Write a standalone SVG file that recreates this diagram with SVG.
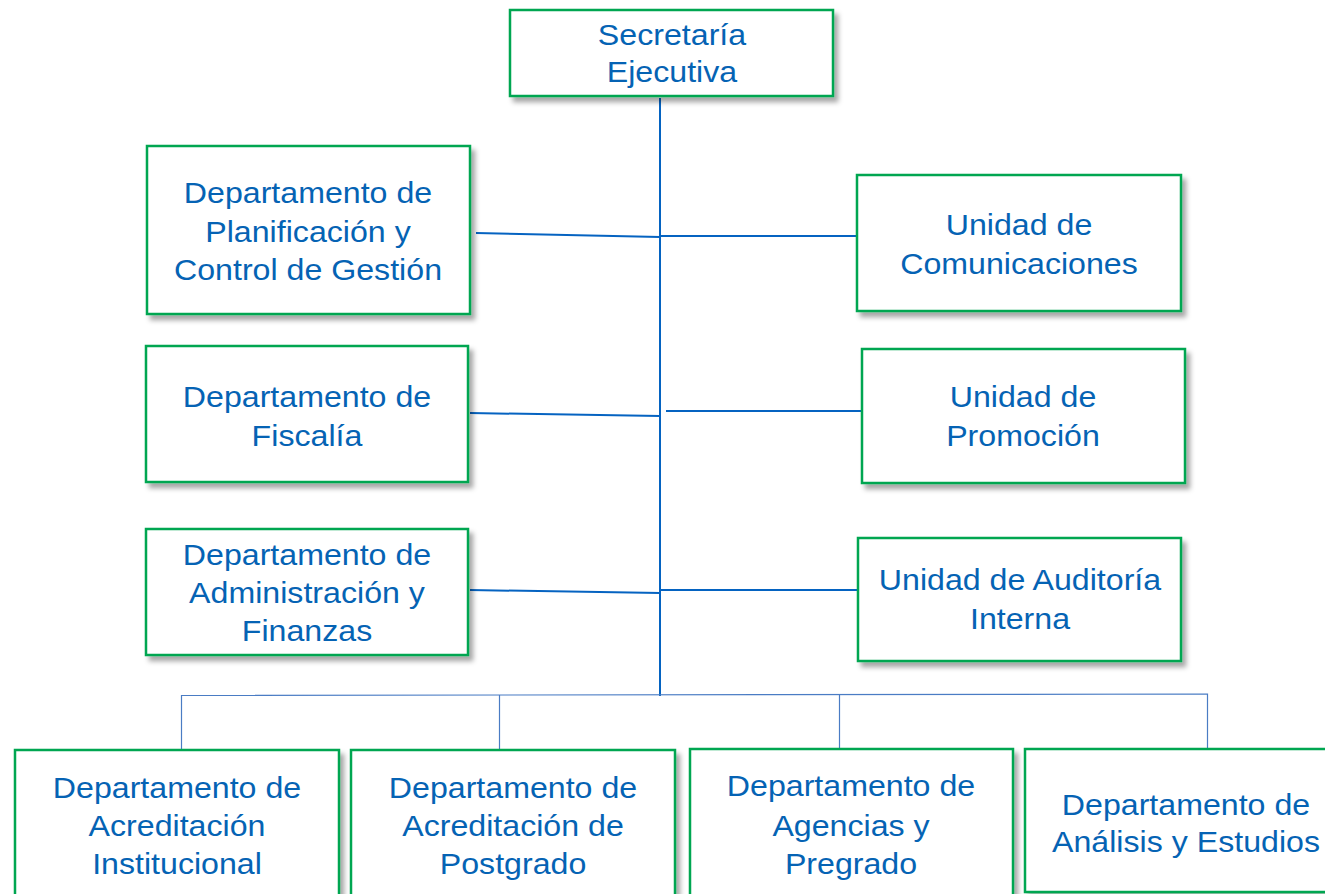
<svg xmlns="http://www.w3.org/2000/svg" width="1325" height="894" viewBox="0 0 1325 894">
<defs>
<filter id="sh" x="-10%" y="-10%" width="125%" height="130%">
<feDropShadow dx="4" dy="5" stdDeviation="2.5" flood-color="#000" flood-opacity="0.35"/>
</filter>
<style>
.box{fill:#fff;stroke:#00A651;stroke-width:2.5;filter:url(#sh)}
.t{font-family:"Liberation Sans",Arial,sans-serif;font-size:29.5px;fill:#0563B4;text-anchor:middle}
.c{stroke:#0563C1;stroke-width:2;fill:none}
.b{stroke:#4A7CC4;stroke-width:1.2;fill:none}
</style>
</defs>
<rect width="1325" height="894" fill="#fff"/>
<g id="connectors">
<line class="c" x1="660" y1="98" x2="660" y2="696"/>
<line class="c" x1="476" y1="233" x2="660" y2="237"/>
<line class="c" x1="660" y1="236" x2="857" y2="236"/>
<line class="c" x1="470" y1="413" x2="660" y2="416"/>
<line class="c" x1="666" y1="411" x2="862" y2="411"/>
<line class="c" x1="470" y1="590" x2="660" y2="593"/>
<line class="c" x1="660" y1="590" x2="858" y2="590"/>
<polyline class="b" points="181.5,757 181.5,695.5 1207.5,694 1207.5,755"/>
<line class="b" x1="499.5" y1="695" x2="499.5" y2="757"/>
<line class="b" x1="839.5" y1="695" x2="839.5" y2="757"/>
</g>
<g id="secretaria">
<rect class="box" x="510" y="10" width="323" height="86"/>
<text class="t" transform="translate(672 45) scale(1.09 1)">Secretaría</text>
<text class="t" transform="translate(672 82) scale(1.09 1)">Ejecutiva</text>
</g>
<g id="planificacion">
<rect class="box" x="147" y="146" width="323" height="168"/>
<text class="t" transform="translate(308 203) scale(1.09 1)">Departamento de</text>
<text class="t" transform="translate(308 242) scale(1.09 1)">Planificación y</text>
<text class="t" transform="translate(308 280) scale(1.09 1)">Control de Gestión</text>
</g>
<g id="comunicaciones">
<rect class="box" x="857" y="175" width="324" height="136"/>
<text class="t" transform="translate(1019 235) scale(1.09 1)">Unidad de</text>
<text class="t" transform="translate(1019 274) scale(1.09 1)">Comunicaciones</text>
</g>
<g id="fiscalia">
<rect class="box" x="146" y="346" width="322" height="136"/>
<text class="t" transform="translate(307 407) scale(1.09 1)">Departamento de</text>
<text class="t" transform="translate(307 446) scale(1.09 1)">Fiscalía</text>
</g>
<g id="promocion">
<rect class="box" x="862" y="349" width="323" height="134"/>
<text class="t" transform="translate(1023 407) scale(1.09 1)">Unidad de</text>
<text class="t" transform="translate(1023 446) scale(1.09 1)">Promoción</text>
</g>
<g id="administracion">
<rect class="box" x="146" y="529" width="322" height="126"/>
<text class="t" transform="translate(307 565) scale(1.09 1)">Departamento de</text>
<text class="t" transform="translate(307 603) scale(1.09 1)">Administración y</text>
<text class="t" transform="translate(307 641) scale(1.09 1)">Finanzas</text>
</g>
<g id="auditoria">
<rect class="box" x="858" y="538" width="323" height="123"/>
<text class="t" transform="translate(1020 590) scale(1.09 1)">Unidad de Auditoría</text>
<text class="t" transform="translate(1020 629) scale(1.09 1)">Interna</text>
</g>
<g id="institucional">
<rect class="box" x="15" y="750" width="324" height="160"/>
<text class="t" transform="translate(177 798) scale(1.09 1)">Departamento de</text>
<text class="t" transform="translate(177 836) scale(1.09 1)">Acreditación</text>
<text class="t" transform="translate(177 874) scale(1.09 1)">Institucional</text>
</g>
<g id="postgrado">
<rect class="box" x="351" y="750" width="324" height="160"/>
<text class="t" transform="translate(513 798) scale(1.09 1)">Departamento de</text>
<text class="t" transform="translate(513 836) scale(1.09 1)">Acreditación de</text>
<text class="t" transform="translate(513 874) scale(1.09 1)">Postgrado</text>
</g>
<g id="agencias">
<rect class="box" x="690" y="749" width="323" height="160"/>
<text class="t" transform="translate(851 796) scale(1.09 1)">Departamento de</text>
<text class="t" transform="translate(851 836) scale(1.09 1)">Agencias y</text>
<text class="t" transform="translate(851 874) scale(1.09 1)">Pregrado</text>
</g>
<g id="analisis">
<rect class="box" x="1025" y="749" width="310" height="143"/>
<text class="t" transform="translate(1186 815) scale(1.09 1)">Departamento de</text>
<text class="t" transform="translate(1186 852) scale(1.09 1)">Análisis y Estudios</text>
</g>
</svg>
